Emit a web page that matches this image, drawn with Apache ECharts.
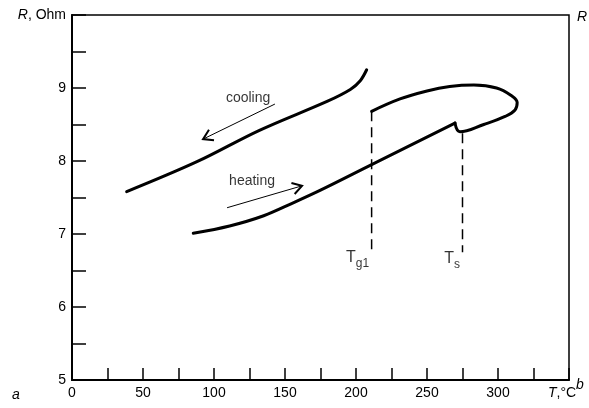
<!DOCTYPE html>
<html>
<head>
<meta charset="utf-8">
<script src="https://cdn.jsdelivr.net/npm/echarts@6/dist/echarts.min.js"></script>
<style>html,body{margin:0;padding:0;background:#fff;}#c{width:589px;height:408px;}</style>
</head>
<body>
<div id="c"></div>
<script>
// Data (temperature T in °C, resistance R in Ohm)
var coolingT = [38.5, 88, 132, 180, 196, 203, 207.5];
var coolingR = [7.58, 7.99, 8.42, 8.82, 8.98, 9.10, 9.25];
// heating branch up to the peak before Ts
var heatingT = [85.4, 111, 135, 155, 175, 211, 269.7];
var heatingR = [7.01, 7.11, 7.25, 7.42, 7.60, 7.95, 8.52];
// after the drop at Ts, the loop back to Tg1
var loopT = [269.7, 273.2, 290, 305, 312, 313.5, 309, 299, 283, 266, 250, 231, 211];
var loopR = [8.52, 8.40, 8.50, 8.61, 8.70, 8.80, 8.90, 9.00, 9.04, 9.02, 8.96, 8.85, 8.68];
var tg1 = 211, tg1Top = 8.68, tg1Bottom = 6.76;
var ts = 275, tsTop = 8.38, tsBottom = 6.75;
var coolingArrow = [142.9, 8.78, 92.3, 8.30];
var heatingArrow = [109.2, 7.36, 162, 7.66];
var coolingText = [124, 8.86];
var heatingText = [126.8, 7.72];
var xTickLabels = ['0', '50', '100', '150', '200', '250', '300'];
var yTickLabels = ['5', '6', '7', '8', '9'];

function zip(a, b) { return a.map(function (v, i) { return [v, b[i]]; }); }

var FONT = 'Liberation Sans, Arial, sans-serif';
var chart = echarts.init(document.getElementById('c'));

function arrowRender(params, api) {
  var p1 = api.coord([api.value(0), api.value(1)]);
  var p2 = api.coord([api.value(2), api.value(3)]);
  var ang = Math.atan2(p1[1] - p2[1], p1[0] - p2[0]);
  var L = 11, a = 0.55;
  var w1 = [p2[0] + L * Math.cos(ang + a), p2[1] + L * Math.sin(ang + a)];
  var w2 = [p2[0] + L * Math.cos(ang - a), p2[1] + L * Math.sin(ang - a)];
  return {
    type: 'group',
    children: [
      { type: 'line', shape: { x1: p1[0], y1: p1[1], x2: p2[0], y2: p2[1] }, style: { stroke: '#000', lineWidth: 1 } },
      { type: 'polyline', shape: { points: [w1, p2, w2] }, style: { stroke: '#000', lineWidth: 2, fill: null } }
    ]
  };
}

var curveStyle = { color: '#000', width: 3, cap: 'round', join: 'round' };

var option = {
  backgroundColor: '#fff',
  animation: false,
  grid: { left: 72, right: 20, top: 15, bottom: 28, show: true, borderColor: '#000', borderWidth: 1.5, backgroundColor: 'transparent' },
  xAxis: {
    type: 'value', min: 0, max: 350, interval: 25,
    axisLine: { show: true, onZero: false, lineStyle: { color: '#000', width: 2 } },
    axisTick: { show: true, inside: true, length: 12, lineStyle: { color: '#000', width: 1.5 } },
    splitLine: { show: false },
    axisLabel: {
      margin: 6, color: '#000', fontSize: 14, fontFamily: FONT, showMaxLabel: true, showMinLabel: true,
      formatter: function (v) {
        if (v % 50 === 0 && v / 50 < xTickLabels.length) return xTickLabels[v / 50];
        return '';
      }
    }
  },
  yAxis: {
    type: 'value', min: 5, max: 10, interval: 0.5,
    axisLine: { show: true, onZero: false, lineStyle: { color: '#000', width: 2 } },
    axisTick: { show: true, inside: true, length: 14, lineStyle: { color: '#000', width: 1.5 } },
    splitLine: { show: false },
    axisLabel: {
      margin: 6, color: '#000', fontSize: 14, fontFamily: FONT, showMaxLabel: true, showMinLabel: true,
      formatter: function (v) {
        if (v === 10) return '{i|R}, Ohm';
        if (Math.abs(v - Math.round(v)) < 1e-6) return yTickLabels[Math.round(v) - 5];
        return '';
      },
      rich: { i: { fontStyle: 'italic', fontSize: 14, fontFamily: FONT, color: '#000' } }
    }
  },
  graphic: [
    { type: 'text', left: 12, top: 388, style: { text: 'a', font: 'italic 14px ' + FONT, fill: '#000' } },
    { type: 'text', left: 577, top: 10, style: { text: 'R', font: 'italic 14px ' + FONT, fill: '#000' } },
    { type: 'text', left: 548, top: 386, style: { text: '{i|T},°C', font: '14px ' + FONT, fill: '#000',
        rich: { i: { fontStyle: 'italic', fontSize: 14, fontFamily: FONT, fill: '#000' } } } },
    { type: 'text', left: 576, top: 378, style: { text: 'b', font: 'italic 14px ' + FONT, fill: '#000' } }
  ],
  series: [
    { type: 'line', data: zip(coolingT, coolingR), smooth: 0.35, symbol: 'none', lineStyle: curveStyle },
    { type: 'line', data: zip(heatingT, heatingR), smooth: 0.35, symbol: 'none', lineStyle: curveStyle },
    { type: 'line', data: zip(loopT, loopR), smooth: 0.4, symbol: 'none', lineStyle: curveStyle },
    { type: 'line', data: [[tg1, tg1Top], [tg1, tg1Bottom]], symbol: 'none', lineStyle: { color: '#000', width: 1.5, type: [10, 6] } },
    { type: 'line', data: [[ts, tsTop], [ts, tsBottom]], symbol: 'none', lineStyle: { color: '#000', width: 1.5, type: [10, 6] } },
    { type: 'custom', renderItem: arrowRender, data: [coolingArrow, heatingArrow], encode: { x: [0, 2], y: [1, 3] } },
    {
      type: 'scatter', symbolSize: 1, itemStyle: { color: 'transparent' },
      data: [
        { value: coolingText, label: { formatter: 'cooling' } },
        { value: heatingText, label: { formatter: 'heating' } }
      ],
      label: { show: true, position: 'inside', color: '#000', fontSize: 14, fontFamily: FONT }
    },
    {
      type: 'scatter', symbolSize: 1, itemStyle: { color: 'transparent' },
      data: [
        { value: [tg1, tg1Bottom], label: { formatter: '{t|T}{s|g1}' } },
        { value: [ts, tsBottom], label: { formatter: '{t|T}{s|s}' } }
      ],
      label: {
        show: true, position: 'left', distance: 2, offset: [0, 8], color: '#000',
        rich: {
          t: { fontSize: 16, fontFamily: FONT, color: '#000', verticalAlign: 'top', lineHeight: 20 },
          s: { fontSize: 12, fontFamily: FONT, color: '#000', verticalAlign: 'bottom', lineHeight: 20, padding: [10, 0, 0, 0] }
        }
      }
    }
  ]
};
chart.setOption(option);
</script>
</body>
</html>
